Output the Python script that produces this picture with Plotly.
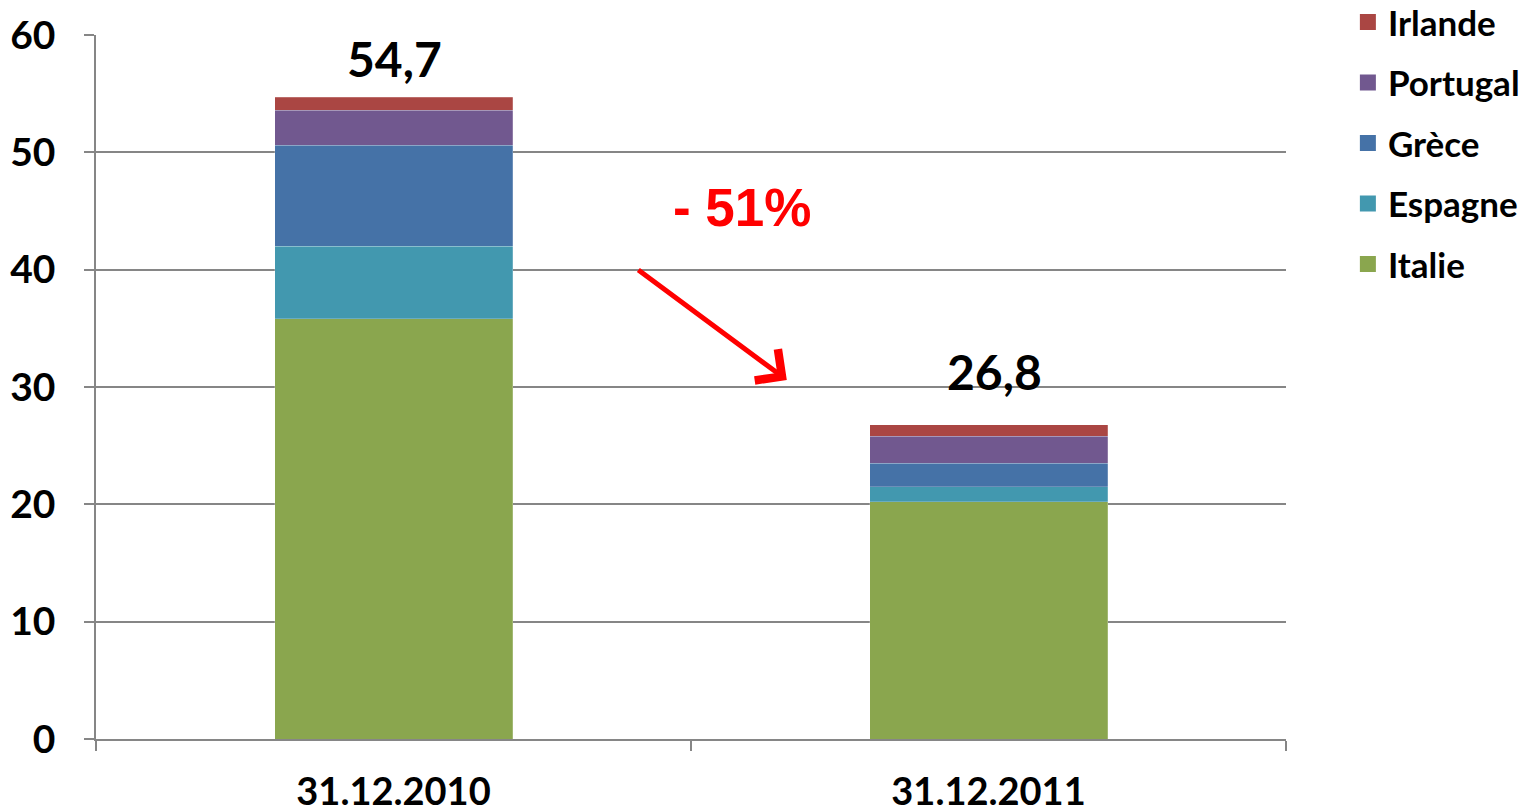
import plotly.graph_objects as go

dates = ["31.12.2010", "31.12.2011"]
countries = ["Italie", "Espagne", "Grèce", "Portugal", "Irlande"]
italie = [35.8, 20.2]
espagne = [6.2, 1.3]
grece = [8.6, 2.0]
portugal = [3.0, 2.3]
irlande = [1.1, 1.0]
totals = [54.7, 26.8]
total_labels = ["54,7", "26,8"]
colors = ["#8AA64E", "#4298AF", "#4572A7", "#71588F", "#AA4643"]

series = [italie, espagne, grece, portugal, irlande]

FONT = "Lato"
fig = go.Figure()
n = len(countries)
for i, (name, vals, col) in enumerate(zip(countries, series, colors)):
    fig.add_trace(go.Bar(
        x=dates, y=vals, name="<b>%s</b>" % name,
        marker=dict(color=col, line=dict(width=0.6, color="rgba(255,255,255,0.35)")),
        legendgroup=name, showlegend=False,
    ))
# legend entries with larger square swatches
for i, (name, col) in enumerate(zip(countries, colors)):
    fig.add_trace(go.Scatter(
        x=[None], y=[None], mode="markers", name="<b>%s</b>" % name,
        marker=dict(symbol="square", size=21, color=col),
        legendgroup=name, legendrank=n - i, showlegend=True,
    ))

# total labels (second one sits a bit higher / right in the original)
fig.add_annotation(x=dates[0], y=totals[0], text="<b>%s</b>" % total_labels[0],
                   showarrow=False, yanchor="bottom", yshift=8, xshift=1,
                   font=dict(family=FONT, size=48, color="black"))
fig.add_annotation(x=dates[1], y=totals[1], text="<b>%s</b>" % total_labels[1],
                   showarrow=False, yanchor="bottom", yshift=23, xshift=6,
                   font=dict(family=FONT, size=48, color="black"))

fig.add_annotation(x=0.586, y=45.3, text="<b>- 51%</b>", showarrow=False,
                   font=dict(family="Liberation Sans", size=53, color="#FF0000"))
fig.add_annotation(x=0.661, y=30.6, ax=0.409, ay=40.06, axref="x", ayref="y",
                   xref="x", yref="y", text="", showarrow=True,
                   arrowhead=4, arrowsize=1.5, arrowwidth=5, arrowcolor="#FF0000")

fig.update_layout(
    width=1527, height=802,
    barmode="stack", bargap=0.6,
    plot_bgcolor="white", paper_bgcolor="white",
    margin=dict(l=88, r=249, t=27, b=71, autoexpand=False),
    font=dict(family=FONT, color="black"),
    legend=dict(traceorder="grouped", tracegroupgap=12, x=1.052, xanchor="left",
                y=1.06, yanchor="top", font=dict(family=FONT, size=35, color="black"),
                itemwidth=30, itemsizing="trace"),
    xaxis=dict(type="category", range=[-0.5, 1.5], tickson="boundaries",
               ticks="outside", ticklen=10, tickcolor="#868686", tickwidth=1.5,
               showline=True, linecolor="#868686", linewidth=1.5,
               tickfont=dict(family=FONT, size=38, color="black"),
               ticklabelstandoff=19, showgrid=False, automargin=False,
               tickprefix="<b>", ticksuffix="</b>"),
    yaxis=dict(range=[0, 60], dtick=10, ticks="outside", ticklen=10,
               tickcolor="#868686", tickwidth=1.5,
               showline=True, linecolor="#868686", linewidth=1.5,
               showgrid=True, gridcolor="#868686", gridwidth=1.5,
               tickfont=dict(family=FONT, size=39, color="black"),
               ticklabelstandoff=21, zeroline=False, automargin=False,
               tickformat="d", tickprefix="<b>", ticksuffix="</b>"),
)

fig.write_html("out.html")
